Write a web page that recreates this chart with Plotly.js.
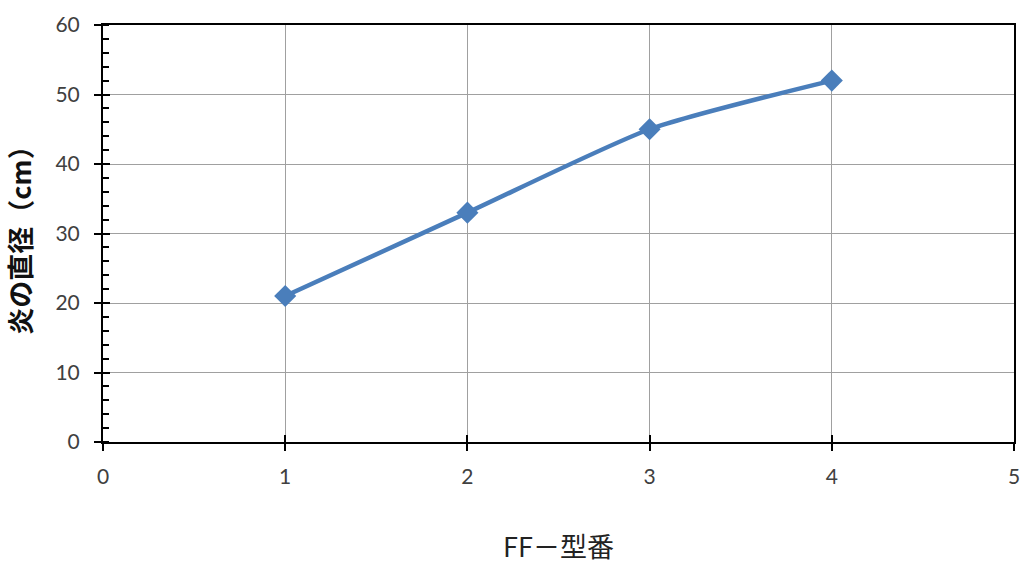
<!DOCTYPE html>
<html><head><meta charset="utf-8">
<script src="https://cdn.plot.ly/plotly-3.0.1.min.js"></script>
<style>body{margin:0;background:#fff}#c{width:1023px;height:565px}</style>
</head><body><div id="c"></div>
<script>
const modelNumbers = [1, 2, 3, 4];
const flameDiameters = [21, 33, 45, 52];
const xTitle = 'FF－型番';
const yTitle = '炎の直径（cm）';

const tickFont = {family: 'Lato, "Liberation Sans", sans-serif', size: 21, color: '#404040'};
const trace = {
  x: modelNumbers, y: flameDiameters, type: 'scatter', mode: 'lines+markers',
  line: {color: '#4a7ebb', width: 4.5, shape: 'spline', smoothing: 0.6},
  marker: {symbol: 'diamond', size: 17, color: '#4a7ebb'},
  showlegend: false
};
const layout = {
  width: 1023, height: 565,
  margin: {l: 103, r: 9, t: 25, b: 123},
  paper_bgcolor: '#fff', plot_bgcolor: '#fff',
  xaxis: {
    range: [0, 5], dtick: 1, tick0: 0,
    showgrid: true, gridcolor: '#a0a0a0', gridwidth: 1,
    showline: true, linecolor: '#000', linewidth: 2, mirror: true,
    ticks: 'outside', ticklen: 7, tickwidth: 2, tickcolor: '#000',
    tickfont: tickFont, ticklabelstandoff: 8, zeroline: false,
    title: {text: xTitle, standoff: 55, font: {family: '"Noto Sans CJK JP", sans-serif', size: 27, color: '#222'}}
  },
  yaxis: {
    range: [0, 60], dtick: 10, tick0: 0,
    showgrid: true, gridcolor: '#a0a0a0', gridwidth: 1,
    showline: true, linecolor: '#000', linewidth: 2, mirror: true,
    ticks: 'outside', ticklen: 7, tickwidth: 2, tickcolor: '#000',
    minor: {dtick: 2, ticks: 'inside', ticklen: 6, tickwidth: 2, tickcolor: '#000', showgrid: false},
    tickfont: tickFont, ticklabelstandoff: 10, zeroline: false,
    title: {text: yTitle, standoff: 16, font: {family: '"Noto Sans CJK JP", sans-serif', size: 27, color: '#111', weight: 'bold'}}
  },
  xaxis2: {overlaying: 'x', range: [0, 5], dtick: 1, tick0: 0, ticks: 'inside', ticklen: 7, tickwidth: 2,
    tickcolor: '#000', showticklabels: false, showgrid: false, zeroline: false, side: 'bottom'},
  yaxis2: {overlaying: 'y', range: [0, 60], dtick: 10, tick0: 0, ticks: 'inside', ticklen: 7, tickwidth: 2,
    tickcolor: '#000', showticklabels: false, showgrid: false, zeroline: false, side: 'left'}
};
const dummy = {x: [], y: [], xaxis: 'x2', yaxis: 'y2', type: 'scatter', showlegend: false, hoverinfo: 'skip'};
Plotly.newPlot('c', [dummy, trace], layout, {staticPlot: true});
</script></body></html>
